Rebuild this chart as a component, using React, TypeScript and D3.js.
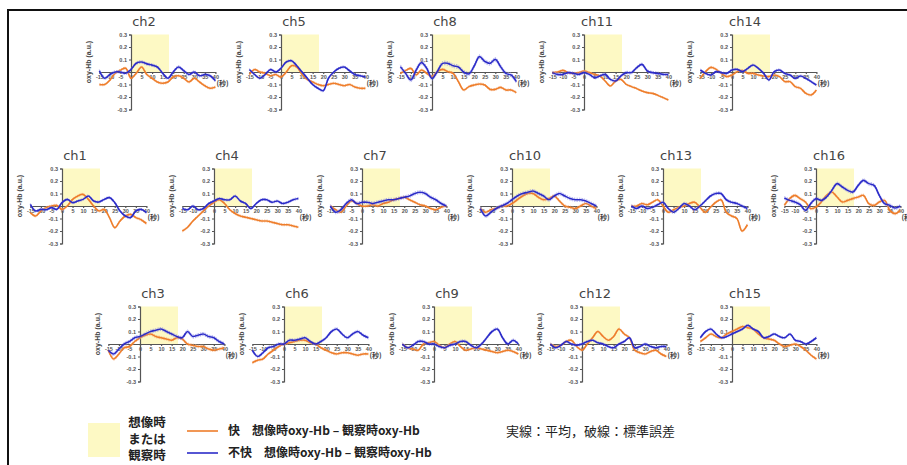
import React, { useEffect, useRef } from 'react';
import * as d3 from 'd3';

const TIMES = [-15, -12.5, -10, -7.5, -5, -2.5, 0, 2.5, 5, 7.5, 10, 12.5, 15, 17.5, 20, 22.5, 25, 27.5, 30, 32.5, 35, 37.5, 40];
const X_TICKS = [-15, -10, -5, 0, 5, 10, 15, 20, 25, 30, 35, 40];
const Y_TICKS = [-0.3, -0.2, -0.1, 0.1, 0.2, 0.3];
const TASK_START = 0;
const TASK_END = 18;

// blue = 不快, orange = 快
const ch1Blue = [0.013, -0.04, -0.027, -0.03, -0.013, -0.027, 0.027, 0.053, 0.027, 0.04, 0.053, 0.08, 0.04, 0.032, 0.053, 0.067, 0.027, -0.04, -0.08, -0.093, -0.04, -0.027, -0.053];
const ch1Orange = [-0.053, -0.08, -0.04, -0.013, 0.0, 0.005, -0.027, 0.0, 0.053, 0.08, 0.093, 0.053, 0.0, -0.04, -0.027, -0.093, -0.173, -0.12, -0.08, -0.067, -0.093, -0.11, -0.14];
const ch2Blue = [0.01, -0.05, -0.02, 0.0, 0.0, -0.01, 0.02, 0.07, 0.08, 0.065, 0.055, 0.04, -0.01, -0.05, 0.0, 0.04, 0.01, -0.02, 0.0, -0.03, -0.02, -0.03, -0.07];
const ch2Orange = [-0.1, -0.1, -0.065, -0.01, 0.015, 0.03, -0.05, -0.01, 0.04, -0.02, -0.05, -0.08, -0.09, -0.08, -0.04, -0.03, -0.05, -0.08, -0.05, -0.08, -0.11, -0.13, -0.12];
const ch3Blue = [-0.05, -0.08, -0.04, 0.0, 0.02, 0.05, 0.06, 0.08, 0.1, 0.11, 0.12, 0.1, 0.08, 0.06, 0.05, 0.1, 0.06, 0.07, 0.08, 0.06, 0.05, 0.02, 0.0];
const ch3Orange = [-0.05, -0.12, -0.08, -0.03, -0.02, 0.02, 0.05, 0.07, 0.08, 0.06, 0.05, 0.04, 0.03, 0.05, 0.04, 0.0, -0.01, -0.02, -0.02, -0.04, -0.05, -0.04, -0.03];
const ch4Blue = [-0.02, -0.03, 0.0, -0.03, -0.02, 0.02, 0.04, 0.06, 0.05, 0.05, 0.08, 0.04, 0.02, -0.02, 0.02, 0.05, 0.05, 0.03, 0.04, 0.02, 0.03, 0.05, 0.06];
const ch4Orange = [-0.2, -0.17, -0.12, -0.08, -0.04, 0.0, 0.03, 0.05, 0.02, -0.03, -0.06, -0.08, -0.09, -0.1, -0.11, -0.12, -0.12, -0.13, -0.14, -0.15, -0.15, -0.16, -0.17];
const ch5Blue = [0.02, -0.02, -0.05, -0.02, 0.02, 0.0, 0.03, 0.08, 0.09, 0.05, 0.0, -0.05, -0.1, -0.13, -0.15, -0.05, 0.0, 0.03, 0.04, 0.01, -0.02, -0.03, -0.04];
const ch5Orange = [-0.02, 0.02, 0.0, -0.01, -0.03, -0.02, -0.04, 0.0, 0.05, 0.04, -0.02, -0.06, -0.08, -0.1, -0.11, -0.1, -0.09, -0.1, -0.11, -0.1, -0.12, -0.13, -0.13];
const ch6Blue = [-0.05, -0.1, -0.07, -0.03, -0.02, 0.0, 0.0, 0.03, 0.03, 0.04, 0.05, 0.02, 0.0, 0.02, 0.05, 0.1, 0.12, 0.08, 0.05, 0.08, 0.1, 0.07, 0.05];
const ch6Orange = [-0.15, -0.13, -0.12, -0.08, -0.05, -0.02, 0.0, 0.01, 0.02, 0.03, 0.03, 0.01, 0.0, -0.03, -0.05, -0.07, -0.08, -0.07, -0.07, -0.08, -0.09, -0.08, -0.08];
const ch7Blue = [0.0, -0.05, -0.03, 0.02, 0.05, 0.02, 0.03, 0.03, 0.02, 0.03, 0.04, 0.05, 0.05, 0.06, 0.07, 0.08, 0.1, 0.11, 0.1, 0.07, 0.05, 0.02, 0.0];
const ch7Orange = [0.0, -0.03, -0.05, 0.0, 0.04, 0.02, 0.0, 0.0, 0.01, 0.0, 0.02, 0.03, 0.05, 0.06, 0.07, 0.05, 0.03, 0.01, 0.0, -0.02, -0.03, -0.01, 0.0];
const ch8Blue = [0.043, -0.011, -0.064, 0.016, 0.075, 0.03, -0.051, 0.003, 0.069, 0.069, 0.05, 0.04, 0.0, -0.015, 0.048, 0.123, 0.085, 0.069, 0.101, 0.043, -0.011, -0.024, -0.077];
const ch8Orange = [-0.011, 0.011, 0.029, -0.024, 0.016, -0.011, -0.037, 0.003, 0.021, 0.003, -0.011, -0.077, -0.144, -0.117, -0.104, -0.096, -0.104, -0.139, -0.139, -0.123, -0.144, -0.144, -0.165];
const ch9Blue = [0.0, -0.03, -0.01, 0.02, 0.02, 0.0, 0.0, -0.02, -0.03, -0.01, 0.0, 0.02, 0.02, -0.01, -0.03, 0.0, 0.05, 0.1, 0.12, 0.05, 0.0, 0.03, 0.0];
const ch9Orange = [0.0, -0.03, -0.04, -0.05, 0.0, 0.01, 0.02, -0.01, -0.03, 0.0, 0.02, -0.02, -0.05, -0.04, -0.03, -0.04, -0.05, -0.06, -0.07, -0.06, -0.05, -0.06, -0.08];
const ch10Blue = [-0.02, -0.08, -0.05, -0.02, 0.0, 0.02, 0.05, 0.08, 0.1, 0.11, 0.12, 0.1, 0.08, 0.05, 0.08, 0.1, 0.08, 0.06, 0.05, 0.05, 0.04, 0.02, 0.0];
const ch10Orange = [-0.02, -0.05, -0.03, -0.02, 0.0, 0.0, 0.02, 0.05, 0.08, 0.1, 0.1, 0.07, 0.05, 0.06, 0.08, 0.04, 0.0, -0.01, -0.02, 0.0, 0.02, 0.0, -0.02];
const ch11Blue = [-0.005, -0.019, -0.019, -0.005, -0.011, -0.019, -0.005, -0.019, -0.045, -0.032, -0.019, -0.059, -0.072, -0.032, -0.005, -0.005, 0.035, 0.061, 0.008, -0.005, -0.011, -0.019, -0.019];
const ch11Orange = [-0.005, 0.0, 0.013, -0.005, -0.011, -0.005, 0.008, -0.005, -0.019, -0.032, -0.072, -0.112, -0.072, -0.059, -0.099, -0.117, -0.133, -0.152, -0.165, -0.171, -0.187, -0.205, -0.224];
const ch12Blue = [0.0, -0.03, -0.01, 0.02, 0.0, -0.01, 0.0, 0.02, 0.03, 0.01, 0.0, -0.02, -0.03, 0.0, 0.02, 0.05, -0.03, -0.02, 0.0, -0.02, -0.03, -0.02, -0.02];
const ch12Orange = [0.0, -0.02, -0.01, 0.02, 0.03, -0.02, -0.05, 0.0, 0.05, 0.1, 0.06, 0.03, 0.06, 0.12, 0.08, 0.05, -0.05, -0.07, -0.08, -0.06, -0.05, -0.08, -0.1];
const ch13Blue = [0.0, -0.02, 0.0, -0.02, -0.01, 0.01, 0.03, -0.02, -0.05, -0.02, 0.02, 0.0, -0.03, 0.0, 0.04, 0.08, 0.1, 0.1, 0.05, 0.03, 0.02, 0.0, -0.02];
const ch13Orange = [0.0, 0.0, 0.02, 0.01, 0.03, 0.05, 0.0, -0.05, -0.03, -0.01, 0.0, 0.02, 0.03, -0.01, -0.05, -0.01, 0.03, 0.05, -0.05, -0.08, -0.1, -0.2, -0.15];
const ch14Blue = [0.016, -0.011, -0.024, 0.003, -0.005, -0.011, 0.016, 0.021, 0.003, 0.029, 0.056, 0.029, -0.011, -0.064, 0.003, 0.016, -0.011, -0.024, -0.051, -0.032, -0.051, -0.077, -0.104];
const ch14Orange = [-0.051, 0.003, 0.037, 0.021, -0.011, -0.037, -0.024, 0.003, 0.011, -0.011, -0.011, -0.024, -0.032, -0.037, -0.024, -0.037, -0.077, -0.077, -0.117, -0.131, -0.171, -0.184, -0.144];
const ch15Blue = [0.05, 0.1, 0.12, 0.08, 0.05, 0.06, 0.08, 0.1, 0.12, 0.15, 0.12, 0.1, 0.05, 0.06, 0.08, 0.06, 0.05, 0.08, 0.03, 0.02, 0.0, 0.02, 0.05];
const ch15Orange = [0.02, 0.05, 0.08, 0.06, 0.05, 0.08, 0.1, 0.12, 0.14, 0.13, 0.12, 0.08, 0.05, 0.04, 0.03, 0.0, -0.02, -0.01, 0.0, -0.02, -0.05, -0.09, -0.12];
const ch16Blue = [0.064, 0.045, 0.032, 0.011, -0.035, 0.019, 0.059, 0.045, 0.072, 0.125, 0.179, 0.152, 0.125, 0.112, 0.165, 0.205, 0.179, 0.165, 0.085, 0.019, 0.005, -0.016, 0.0];
const ch16Orange = [0.005, 0.059, 0.085, 0.059, 0.032, -0.021, -0.008, 0.032, 0.085, 0.112, 0.072, 0.032, 0.045, 0.059, 0.072, 0.085, 0.019, 0.005, 0.032, 0.045, -0.035, -0.061, -0.035];

// standard error (a.u.) for the dashed lines
const SE_BLUE = [0.008, 0.01, 0.012, 0.008, 0.008, 0.01, 0.012, 0.014, 0.01, 0.012, 0.01, 0.008, 0.01, 0.008, 0.008, 0.012];
const SE_ORANGE = [0.008, 0.008, 0.01, 0.008, 0.008, 0.008, 0.008, 0.008, 0.008, 0.01, 0.006, 0.008, 0.008, 0.008, 0.008, 0.01];

const SERIES = [
  [ch1Blue, ch1Orange], [ch2Blue, ch2Orange], [ch3Blue, ch3Orange], [ch4Blue, ch4Orange],
  [ch5Blue, ch5Orange], [ch6Blue, ch6Orange], [ch7Blue, ch7Orange], [ch8Blue, ch8Orange],
  [ch9Blue, ch9Orange], [ch10Blue, ch10Orange], [ch11Blue, ch11Orange], [ch12Blue, ch12Orange],
  [ch13Blue, ch13Orange], [ch14Blue, ch14Orange], [ch15Blue, ch15Orange], [ch16Blue, ch16Orange],
];

// panel placement: ox = x of t=0, oy = y of value 0
const PANELS = [
  { ch: 2, ox: 131, oy: 72 }, { ch: 5, ox: 281, oy: 72 }, { ch: 8, ox: 432, oy: 72 },
  { ch: 11, ox: 584, oy: 72 }, { ch: 14, ox: 732, oy: 72 },
  { ch: 1, ox: 62, oy: 206 }, { ch: 4, ox: 214, oy: 206 }, { ch: 7, ox: 362, oy: 206 },
  { ch: 10, ox: 512, oy: 206 }, { ch: 13, ox: 663, oy: 206 }, { ch: 16, ox: 816, oy: 206 },
  { ch: 3, ox: 140, oy: 344 }, { ch: 6, ox: 284, oy: 344 }, { ch: 9, ox: 434, oy: 344 },
  { ch: 12, ox: 582, oy: 344 }, { ch: 15, ox: 732, oy: 344 },
];

const PX_PER_S = 2.11;
const HALF_H = 37.5;
const BLUE = '#2b2bc8';
const ORANGE = '#ee7d2a';
const YELLOW = '#fdf9c4';
const TICK_FONT = '"Liberation Sans", Arial, sans-serif';
const JP_FONT = '"Noto Sans CJK JP", sans-serif';

const draw = (node: SVGSVGElement) => {
  const svg = d3.select(node);
  svg.selectAll('*').remove();

  svg.append('rect').attr('width', 907).attr('height', 465).attr('fill', '#fff');
  // frame
  svg.append('path').attr('d', 'M8,465 L8,10 L907,10').attr('fill', 'none')
    .attr('stroke', '#111').attr('stroke-width', 2);

  PANELS.forEach((p) => {
    const [blue, orange] = SERIES[p.ch - 1];
    const x = d3.scaleLinear().domain([-15, 40]).range([p.ox - 15 * PX_PER_S, p.ox + 40 * PX_PER_S]);
    const y = d3.scaleLinear().domain([-0.3, 0.3]).range([p.oy + HALF_H, p.oy - HALF_H]);
    const g = svg.append('g');

    g.append('rect')
      .attr('x', x(TASK_START)).attr('y', y(0.3))
      .attr('width', x(TASK_END) - x(TASK_START)).attr('height', y(0) - y(0.3))
      .attr('fill', YELLOW);

    g.append('text').attr('x', p.ox + 13).attr('y', y(0.3) - 9)
      .attr('text-anchor', 'middle').attr('font-family', '"DejaVu Sans", sans-serif')
      .attr('font-size', 13).attr('fill', '#444').text(`ch${p.ch}`);

    g.append('text')
      .attr('transform', `translate(${p.ox - 42},${p.oy - 10}) rotate(-90)`)
      .attr('text-anchor', 'middle').attr('dy', '0.35em')
      .attr('font-family', TICK_FONT).attr('font-weight', 'bold').attr('font-size', 7)
      .attr('fill', '#444').text('oxy-Hb (a.u.)');

    const yAxis = g.append('g').attr('transform', `translate(${p.ox},0)`)
      .call(d3.axisLeft(y).tickValues(Y_TICKS).tickSize(2).tickSizeOuter(2).tickPadding(2)
        .tickFormat((d) => String(d)));
    const xAxis = g.append('g').attr('transform', `translate(0,${p.oy})`)
      .call(d3.axisBottom(x).tickValues(X_TICKS).tickSize(2).tickSizeOuter(0).tickPadding(1)
        .tickFormat((d) => String(d)));
    [yAxis, xAxis].forEach((a) => {
      a.selectAll('path, line').attr('stroke', '#555').attr('stroke-width', 1.2);
      a.selectAll('text').attr('font-family', TICK_FONT).attr('font-weight', 'bold')
        .attr('font-size', 5.5).attr('fill', '#555');
    });

    g.append('text').attr('x', x(40) + 1).attr('y', p.oy + 14)
      .attr('font-family', JP_FONT).attr('font-weight', 'bold').attr('font-size', 7)
      .attr('fill', '#444').text('(秒)');

    const line = d3.line<number>().x((_, i) => x(TIMES[i])).y((d) => y(d)).curve(d3.curveCatmullRom);
    const seLine = (vals: number[], off: number) => line(vals.map((v) => v + off));

    const drawSeries = (vals: number[], se: number, color: string, light: string) => {
      [se, -se].forEach((off) => {
        g.append('path').attr('d', seLine(vals, off)).attr('fill', 'none')
          .attr('stroke', light).attr('stroke-width', 0.7).attr('stroke-dasharray', '1.5,1');
      });
      g.append('path').attr('d', line(vals)).attr('fill', 'none')
        .attr('stroke', color).attr('stroke-width', 1.6);
    };
    drawSeries(orange, SE_ORANGE[p.ch - 1], ORANGE, '#f4b58a');
    drawSeries(blue, SE_BLUE[p.ch - 1], BLUE, '#8d8de6');
  });

  // legend
  const lg = svg.append('g');
  lg.append('rect').attr('x', 88).attr('y', 423).attr('width', 32).attr('height', 34).attr('fill', YELLOW);
  ['想像時', 'または', '観察時'].forEach((t, i) => {
    lg.append('text').attr('x', 147).attr('y', 423 + i * 16.5).attr('dy', '0.35em')
      .attr('text-anchor', 'middle').attr('font-family', JP_FONT).attr('font-weight', 'bold')
      .attr('font-size', 12.5).attr('fill', '#222').text(t);
  });
  const rows = [
    { color: ORANGE, label: '快', yy: 431 },
    { color: BLUE, label: '不快', yy: 453 },
  ];
  rows.forEach((r) => {
    lg.append('line').attr('x1', 187).attr('x2', 218).attr('y1', r.yy).attr('y2', r.yy)
      .attr('stroke', r.color).attr('stroke-width', 1.6);
    const t = lg.append('text').attr('x', 228).attr('y', r.yy).attr('dy', '0.35em')
      .attr('font-family', JP_FONT).attr('font-weight', 'bold').attr('font-size', 12).attr('fill', '#222');
    t.append('tspan').text(r.label);
    t.append('tspan').attr('dx', 12).text('想像時oxy-Hb – 観察時oxy-Hb');
  });
  lg.append('text').attr('x', 506).attr('y', 431).attr('dy', '0.35em')
    .attr('font-family', JP_FONT).attr('font-size', 13).attr('fill', '#222')
    .text('実線：平均，破線：標準誤差');
};

const App = () => {
  const ref = useRef<SVGSVGElement>(null);
  useEffect(() => {
    if (ref.current) draw(ref.current);
  }, []);
  return (
    <svg ref={ref} width={907} height={465}
      style={{ position: 'absolute', left: 0, top: 0, display: 'block' }} />
  );
};

export default App;
